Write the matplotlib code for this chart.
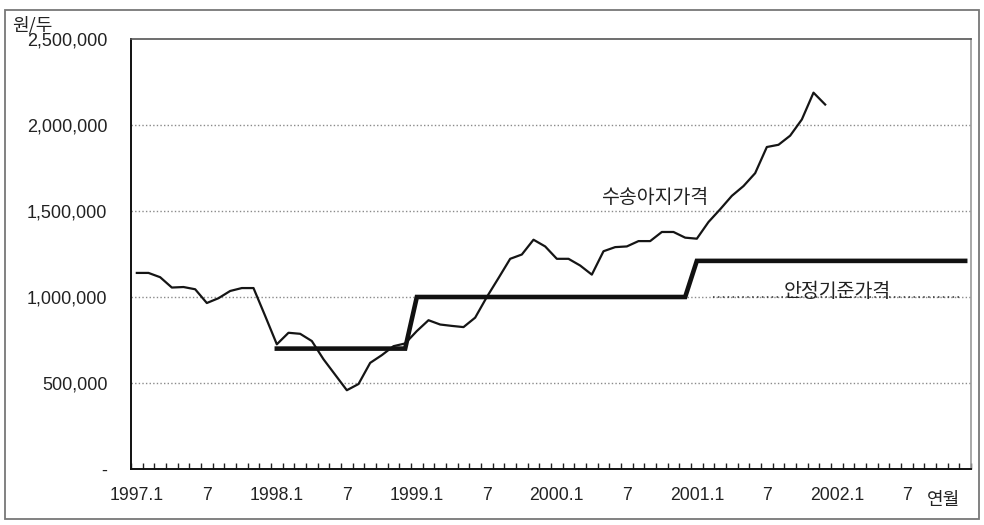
import numpy as np
import matplotlib
matplotlib.use("Agg")
import matplotlib.pyplot as plt
from matplotlib.patches import Rectangle
from matplotlib.ticker import FixedLocator, FuncFormatter

# ── Data ──────────────────────────────────────────────────────────────────────

# monthly calf price (won per head), 1997.1 – 2001.12
calf_price = [
    1140000, 1140000, 1115000, 1055000, 1058000, 1045000,
    965000, 993000, 1035000, 1052000, 1052000, 890000,
    725000, 792000, 786000, 744000, 638000, 548000,
    458000, 494000, 617000, 662000, 714000, 730000,
    802000, 865000, 840000, 832000, 825000, 880000,
    1000000, 1110000, 1222000, 1247000, 1333000, 1294000,
    1222000, 1222000, 1183000, 1130000, 1266000, 1290000,
    1294000, 1325000, 1325000, 1378000, 1378000, 1345000,
    1339000, 1436000, 1510000, 1588000, 1645000, 1720000,
    1872000, 1885000, 1938000, 2032000, 2188000, 2119000,
]

# stability reference price: month index (0 = 1997.1) and level
stable_month = [12, 23, 24, 47, 48, 71]
stable_price = [700000, 700000, 1000000, 1000000, 1210000, 1210000]

n_months = 72
month_labels = ["1997.1", "7", "1998.1", "7", "1999.1", "7",
                "2000.1", "7", "2001.1", "7", "2002.1", "7"]
y_ticks = [0, 500000, 1000000, 1500000, 2000000, 2500000]

KR = ["Noto Sans CJK KR", "DejaVu Sans"]
NUM = ["Liberation Sans", "DejaVu Sans"]

# ── Plot ──────────────────────────────────────────────────────────────────────

fig = plt.figure(figsize=(9.84, 5.25), dpi=100)
ax = fig.add_axes([131 / 984, 56 / 525, 840 / 984, 430 / 525])

ax.set_xlim(-0.5, n_months - 0.5)
ax.set_ylim(0, 2500000)

for v in y_ticks[1:-1]:
    ax.axhline(v, color="#8a8a8a", lw=1.0, ls=(0, (1, 1.6)), zorder=1)

ax.plot(np.arange(len(calf_price)), calf_price, color="#151515", lw=1.6,
        solid_joinstyle="round", zorder=3)
ax.plot(stable_month, stable_price, color="#111111", lw=3.3,
        solid_joinstyle="miter", zorder=4)

# dotted leader under the stability label
ax.plot([stable_month[4] + 1.4, n_months - 1.3], [1000000, 1000000],
        color="#333333", lw=1.1, ls=(0, (1, 2.2)), zorder=2)

ax.text(44.4, 1580000, "수송아지가격", family=KR, fontsize=14,
        color="#222222", ha="center", va="center")
ax.text(60.0, 1030000, "안정기준가격", family=KR, fontsize=14,
        color="#222222", ha="center", va="center")

# axes styling
for side in ("left", "bottom"):
    ax.spines[side].set_color("#111111")
    ax.spines[side].set_linewidth(1.4)
ax.spines["top"].set_color("#555555")
ax.spines["right"].set_color("#999999")
ax.spines["top"].set_linewidth(1.2)
ax.spines["right"].set_linewidth(1.2)

ax.yaxis.set_major_locator(FixedLocator(y_ticks))
ax.yaxis.set_major_formatter(FuncFormatter(lambda v, p: "-" if v == 0 else f"{int(v):,}"))
ax.tick_params(axis="y", length=0, pad=17, labelsize=13, labelcolor="#222222")

ax.set_xticks(np.arange(0, n_months, 6))
ax.set_xticklabels(month_labels)
ax.set_xticks(np.arange(-0.5, n_months, 1), minor=True)
ax.tick_params(axis="x", which="major", length=0, pad=13, labelsize=12.7,
               labelcolor="#222222")
ax.tick_params(axis="x", which="minor", direction="in", length=4,
               width=1.0, color="#222222")
for lab in ax.get_xticklabels() + ax.get_yticklabels():
    lab.set_family(NUM)

fig.text(32 / 984, 1 - 25 / 525, "원/두", family=KR, fontsize=13,
         color="#222222", ha="center", va="center")
fig.text(944 / 984, 1 - 500 / 525, "연월", family=KR, fontsize=13,
         color="#222222", ha="center", va="center")

# outer frame around the whole chart
fig.patches.append(Rectangle((5 / 984, 1 - 519 / 525), 974 / 984, 509 / 525,
                             transform=fig.transFigure, fill=False,
                             edgecolor="#777777", lw=1.3))

fig.savefig("out.png", dpi=100)
